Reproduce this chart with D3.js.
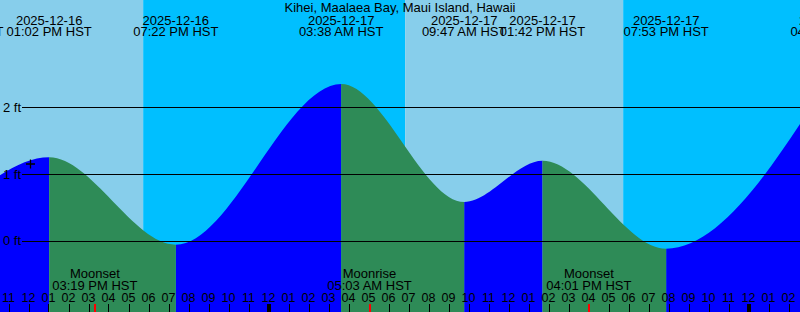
<!DOCTYPE html>
<html>
<head>
<meta charset="utf-8">
<script src="https://cdn.jsdelivr.net/npm/d3@7"></script>
<style>
  body { margin: 0; }
  svg text { font-family: "Liberation Sans", Arial, sans-serif; fill: #000; }
</style>
</head>
<body>
<svg id="chart" width="800" height="312"></svg>
<script>
"use strict";

// tide events (HST) and heights in feet
var tideTimes = ["2025-12-16 08:38", "2025-12-16 13:02", "2025-12-16 19:22", "2025-12-17 03:38",
                 "2025-12-17 09:47", "2025-12-17 13:42", "2025-12-17 19:53", "2025-12-18 04:11"]
var tideHeights = [0.54, 1.25, -0.06, 2.35, 0.58, 1.20, -0.12, 2.50]

var moonTimes = ["2025-12-16 15:19", "2025-12-17 05:03", "2025-12-17 16:01"]
var moonNames = ["Moonset", "Moonrise", "Moonset"]

var sunTimes = ["2025-12-16 17:44", "2025-12-17 06:50", "2025-12-17 17:44"]
var sunKinds = ["Sunset", "Sunrise", "Sunset"]

var nowTime = "2025-12-16 12:06"
var nowLevel = 1.15

var levelTicks = [0, 1, 2]
var title = "Kihei, Maalaea Bay, Maui Island, Hawaii"

var width = 800, height = 312
var labelFont = "13px"

var parse = d3.utcParse("%Y-%m-%d %H:%M")
var fmtDate = d3.utcFormat("%Y-%m-%d")
var fmtTime = d3.utcFormat("%I:%M %p HST")
var fmtHour = d3.utcFormat("%I")

var tides = tideTimes.map((t, i) => ({date: parse(t), level: tideHeights[i]}))
var moons = moonTimes.map((t, i) => ({date: parse(t), name: moonNames[i]}))

var svg = d3.select("#chart")

// 20 px per hour
var x = d3.scaleTime()
    .domain([parse("2025-12-16 00:00"), parse("2025-12-18 00:00")])
    .range([-211.5, 748.5])
var y = d3.scaleLinear().domain([0, 2]).range([240.7, 107.3])

var start = x.invert(0), end = x.invert(width)

// day / night background
var bounds = [start].concat(sunTimes.map(parse), [end])
var bands = []
for (var i = 0; i < bounds.length - 1; i++) {
    var isDay = i === 0 ? sunKinds[0] === "Sunset" : sunKinds[i - 1] === "Sunrise"
    bands.push({from: bounds[i], to: bounds[i + 1], day: isDay})
}
svg.append("g").selectAll("rect").data(bands).join("rect")
    .attr("x", d => x(d.from))
    .attr("y", 0)
    .attr("width", d => x(d.to) - x(d.from))
    .attr("height", height)
    .attr("fill", d => d.day ? "#87ceeb" : "#00bfff")

// tide area, split into rising (blue) and falling (green) parts
var area = d3.area()
    .x(d => x(d.date))
    .y0(height)
    .y1(d => y(d.level))
    .curve(d3.curveMonotoneX)

var defs = svg.append("defs")
var rising = defs.append("clipPath").attr("id", "rising")
var falling = defs.append("clipPath").attr("id", "falling")
for (var j = 0; j < tides.length - 1; j++) {
    var clip = tides[j + 1].level > tides[j].level ? rising : falling
    clip.append("rect")
        .attr("x", x(tides[j].date))
        .attr("y", 0)
        .attr("width", x(tides[j + 1].date) - x(tides[j].date))
        .attr("height", height)
}

svg.append("path").datum(tides)
    .attr("d", area)
    .attr("fill", "#0000ff")
    .attr("clip-path", "url(#rising)")
svg.append("path").datum(tides)
    .attr("d", area)
    .attr("fill", "#2e8b57")
    .attr("clip-path", "url(#falling)")

// level lines
var levels = svg.append("g")
levels.selectAll("line").data(levelTicks).join("line")
    .attr("x1", 22).attr("x2", width)
    .attr("y1", d => Math.round(y(d)) + 0.5)
    .attr("y2", d => Math.round(y(d)) + 0.5)
    .attr("stroke", "#000")
levels.selectAll("text").data(levelTicks).join("text")
    .attr("x", 3)
    .attr("y", d => y(d) + 4.5)
    .attr("font-size", labelFont)
    .text(d => d + " ft")

// "now" marker
var nx = x(parse(nowTime)), ny = y(nowLevel)
svg.append("path")
    .attr("d", "M" + (nx - 4.5) + "," + ny + "H" + (nx + 4.5) + "M" + nx + "," + (ny - 4.5) + "V" + (ny + 4.5))
    .attr("stroke", "#000")
    .attr("stroke-width", 1.3)

// title and tide event labels
svg.append("text")
    .attr("x", width / 2).attr("y", 11.5)
    .attr("text-anchor", "middle")
    .attr("font-size", labelFont)
    .text(title)

var evLabels = svg.append("g").attr("text-anchor", "middle").attr("font-size", labelFont)
evLabels.selectAll("text.d").data(tides).join("text")
    .attr("class", "d")
    .attr("x", d => x(d.date)).attr("y", 25)
    .text(d => fmtDate(d.date))
evLabels.selectAll("text.t").data(tides).join("text")
    .attr("class", "t")
    .attr("x", d => x(d.date)).attr("y", 36)
    .text(d => fmtTime(d.date))

// moon labels
var moonLabels = svg.append("g").attr("text-anchor", "middle").attr("font-size", labelFont)
moonLabels.selectAll("text.n").data(moons).join("text")
    .attr("class", "n")
    .attr("x", d => x(d.date)).attr("y", 277.5)
    .text(d => d.name)
moonLabels.selectAll("text.t").data(moons).join("text")
    .attr("class", "t")
    .attr("x", d => x(d.date)).attr("y", 289.5)
    .text(d => fmtTime(d.date))

// hour ticks and labels
var hours = d3.utcHour.range(d3.utcHour.offset(d3.utcHour.floor(start), -1), d3.utcHour.offset(end, 1))
var axis = svg.append("g")
axis.selectAll("text").data(hours).join("text")
    .attr("x", d => x(d))
    .attr("y", 302)
    .attr("text-anchor", "middle")
    .attr("font-size", "12.5px")
    .text(d => fmtHour(d))
axis.selectAll("rect").data(hours).join("rect")
    .attr("x", d => d.getUTCHours() === 0 ? Math.round(x(d)) - 2 : Math.round(x(d)))
    .attr("y", 304)
    .attr("width", d => d.getUTCHours() === 0 ? 4 : 1)
    .attr("height", 8)
    .attr("fill", "#000")
axis.selectAll("rect.moon").data(moons).join("rect")
    .attr("class", "moon")
    .attr("x", d => Math.round(x(d.date)) - 1)
    .attr("y", 304)
    .attr("width", 2)
    .attr("height", 8)
    .attr("fill", "#ff0000")
</script>
</body>
</html>
